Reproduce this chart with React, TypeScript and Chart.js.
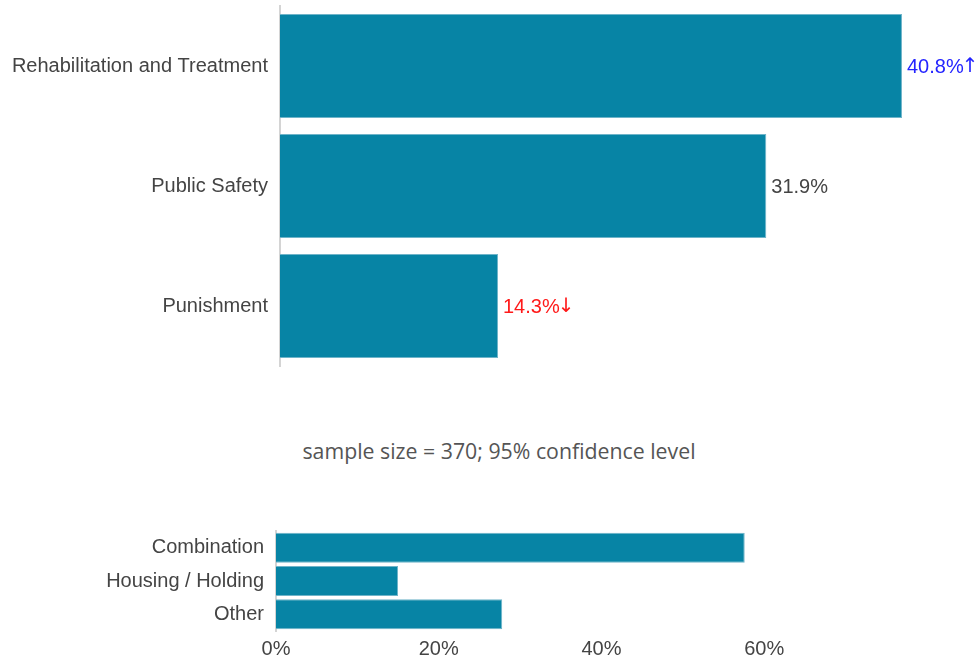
import React, { useEffect, useRef } from "react";
import { Chart, registerables } from "chart.js";

Chart.register(...registerables);

const topCategories = ["Rehabilitation and Treatment", "Public Safety", "Punishment"];
const topValues = [40.8, 31.9, 14.3];
const topLabels = ["40.8%", "31.9%", "14.3%"];
const topArrows = ["↑", "", "↓"];
const topLabelColors = ["#2424ff", "#444444", "#ff1a1a"];

const bottomCategories = ["Combination", "Housing / Holding", "Other"];
const bottomValues = [57.6, 15.0, 27.8];
const bottomTicks = [0, 20, 40, 60];

const noteText = "sample size = 370; 95% confidence level";

const FONT = "'Liberation Sans', Arial, sans-serif";
const BAR_COLOR = "#0784a5";
const BAR_BORDER = "#6fb4c9";

const valueLabelPlugin = {
  id: "valueLabels",
  afterDatasetsDraw(chart: any, _args: any, opts: any) {
    if (!opts || !opts.labels) return;
    const ctx = chart.ctx;
    const meta = chart.getDatasetMeta(0);
    ctx.save();
    ctx.textAlign = "left";
    ctx.textBaseline = "middle";
    meta.data.forEach((bar: any, i: number) => {
      ctx.fillStyle = opts.colors[i];
      ctx.font = `20px ${FONT}`;
      const x = bar.x + 5;
      const y = bar.y + 1;
      ctx.fillText(opts.labels[i], x, y);
      const w = ctx.measureText(opts.labels[i]).width;
      if (opts.arrows[i]) {
        ctx.font = `20px 'DejaVu Sans', sans-serif`;
        ctx.fillText(opts.arrows[i], x + w - 2, y);
      }
    });
    ctx.restore();
  },
};

const noScalePadding = (s: any) => {
  s.paddingTop = 0;
  s.paddingBottom = 0;
};

function TopChart() {
  const ref = useRef<HTMLCanvasElement>(null);
  useEffect(() => {
    const chart = new Chart(ref.current!, {
      type: "bar",
      data: {
        labels: topCategories,
        datasets: [
          {
            data: topValues,
            backgroundColor: BAR_COLOR,
            borderColor: BAR_BORDER,
            borderWidth: 1,
            borderSkipped: "left",
            barPercentage: 0.867,
            categoryPercentage: 1,
          },
        ],
      },
      options: {
        indexAxis: "y",
        animation: false,
        responsive: false,
        maintainAspectRatio: false,
        layout: { padding: { top: 6, right: 9, bottom: 14, left: 0 } },
        plugins: {
          legend: { display: false },
          tooltip: { enabled: false },
          valueLabels: { labels: topLabels, arrows: topArrows, colors: topLabelColors },
        } as any,
        scales: {
          x: { display: false, min: 0, max: 45 },
          y: {
            grid: { display: false, drawTicks: false },
            border: { display: true, color: "#d4d4d4", width: 2 },
            ticks: { padding: 12, color: "#444444", font: { size: 20, family: FONT } },
            afterFit: (s: any) => {
              s.width = 280;
              noScalePadding(s);
            },
          },
        },
      },
      plugins: [valueLabelPlugin],
    });
    return () => chart.destroy();
  }, []);
  return (
    <canvas
      ref={ref}
      width={975}
      height={380}
      style={{ position: "absolute", left: 0, top: 0, width: 975, height: 380 }}
    />
  );
}

function BottomChart() {
  const ref = useRef<HTMLCanvasElement>(null);
  useEffect(() => {
    const chart = new Chart(ref.current!, {
      type: "bar",
      data: {
        labels: bottomCategories,
        datasets: [
          {
            data: bottomValues,
            backgroundColor: BAR_COLOR,
            borderColor: BAR_BORDER,
            borderWidth: 1,
            borderSkipped: "left",
            barPercentage: 0.9,
            categoryPercentage: 1,
          },
        ],
      },
      options: {
        indexAxis: "y",
        animation: false,
        responsive: false,
        maintainAspectRatio: false,
        layout: { padding: { top: 31, right: 48, bottom: 0, left: 0 } },
        plugins: {
          legend: { display: false },
          tooltip: { enabled: false },
        },
        scales: {
          x: {
            min: 0,
            max: 80,
            grid: { display: false, drawTicks: false },
            border: { display: false },
            afterBuildTicks: (s: any) => {
              s.ticks = bottomTicks.map((v) => ({ value: v }));
            },
            ticks: {
              padding: 6,
              color: "#444444",
              font: { size: 20, family: FONT },
              callback: (v: any) => `${v}%`,
            },
            afterFit: (s: any) => {
              s.height = 30;
            },
          },
          y: {
            grid: { display: false, drawTicks: false },
            border: { display: true, color: "#d4d4d4", width: 2 },
            ticks: { padding: 12, color: "#444444", font: { size: 20, family: FONT } },
            afterFit: (s: any) => {
              s.width = 276;
              noScalePadding(s);
            },
          },
        },
      },
    });
    return () => chart.destroy();
  }, []);
  return (
    <canvas
      ref={ref}
      width={975}
      height={161}
      style={{ position: "absolute", left: 0, top: 500, width: 975, height: 161 }}
    />
  );
}

export default function App() {
  return (
    <div
      style={{
        position: "fixed",
        left: 0,
        top: 0,
        width: 975,
        height: 661,
        background: "#ffffff",
        overflow: "hidden",
      }}
    >
      <TopChart />
      <div
        style={{
          position: "absolute",
          left: 199,
          top: 436,
          width: 600,
          textAlign: "center",
          fontFamily: "'Open Sans', sans-serif",
          fontSize: 21.3,
          lineHeight: "30px",
          color: "#555555",
        }}
      >
        {noteText}
      </div>
      <BottomChart />
    </div>
  );
}
